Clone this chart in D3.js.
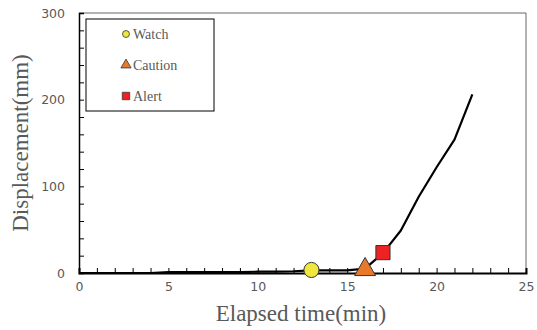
<!DOCTYPE html>
<html>
<head>
<meta charset="utf-8">
<script src="https://cdn.jsdelivr.net/npm/d3@7"></script>
<style>
  body { margin: 0; background: #fff; }
  svg { display: block; }
</style>
</head>
<body>
<svg id="chart" width="537" height="330"></svg>
<script>
// displacement curve
const times = [0, 1, 2, 3, 4, 5, 6, 7, 8, 9, 10, 11, 12, 13, 14, 15, 16, 17, 18, 19, 20, 21, 22];
const displacement = [0, 0, 0, 0, 0, 1, 1, 1, 1, 1, 1.5, 1.5, 2, 3, 3, 3, 5, 23, 49, 88, 122, 154, 206];

const levels = ['Watch', 'Caution', 'Alert'];
const levelTimes = [13, 16, 17];
const levelValues = [3.5, 4, 23.5];
const levelColors = ['#f0e63c', '#e8782a', '#ee2222'];
const levelShapes = [d3.symbolCircle, d3.symbolTriangle, d3.symbolSquare];

const xTicks = [0, 5, 10, 15, 20, 25];
const yTicks = [0, 100, 200, 300];

const svg = d3.select('#chart');
const margin = { top: 13, right: 11, bottom: 57, left: 79 };
const width = 537 - margin.left - margin.right;
const height = 330 - margin.top - margin.bottom;
const chart = svg.append('g')
  .attr('transform', `translate(${margin.left}, ${margin.top})`);

const x = d3.scaleLinear().domain([0, 25]).range([0, width]);
const y = d3.scaleLinear().domain([0, 300]).range([height, 0]);

// frame top/right
chart.append('path')
  .attr('d', `M0,0H${width}V${height}`)
  .attr('fill', 'none')
  .attr('stroke', '#666')
  .attr('stroke-width', 1);

const tickColor = '#595959';

const xAxis = chart.append('g')
  .attr('transform', `translate(0, ${height})`)
  .call(d3.axisBottom(x).tickValues(d3.range(0, 26, 1)).tickSize(-5).tickFormat(''));
xAxis.select('.domain').attr('stroke', '#000').attr('stroke-width', 2);
xAxis.selectAll('.tick line').attr('stroke', '#000');

chart.append('g')
  .attr('transform', `translate(0, ${height})`)
  .call(d3.axisBottom(x).tickValues(xTicks).tickSize(0).tickPadding(9))
  .call(g => g.select('.domain').remove())
  .selectAll('text')
  .attr('fill', tickColor)
  .style('font-family', 'DejaVu Sans, Verdana, sans-serif')
  .style('font-size', '12.5px');

const yAxis = chart.append('g')
  .call(d3.axisLeft(y).tickValues(d3.range(0, 301, 20)).tickSize(-5).tickFormat(''));
yAxis.select('.domain').attr('stroke', '#000').attr('stroke-width', 1.5);
yAxis.selectAll('.tick line').attr('stroke', '#000');

chart.append('g')
  .call(d3.axisLeft(y).tickValues(yTicks).tickSize(0).tickPadding(14))
  .call(g => g.select('.domain').remove())
  .selectAll('text')
  .attr('fill', tickColor)
  .style('font-family', 'DejaVu Sans, Verdana, sans-serif')
  .style('font-size', '12.5px');

// curve
const line = d3.line()
  .x((d, i) => x(times[i]))
  .y(d => y(d));
chart.append('path')
  .datum(displacement)
  .attr('d', line)
  .attr('fill', 'none')
  .attr('stroke', '#000')
  .attr('stroke-width', 2.2)
  .attr('stroke-linejoin', 'round');

// warning level markers
const markerSizes = [180, 190, 200];
chart.selectAll('.level')
  .data(levels)
  .enter()
  .append('path')
  .attr('class', 'level')
  .attr('transform', (d, i) => `translate(${x(levelTimes[i])}, ${y(levelValues[i])})`)
  .attr('d', (d, i) => d3.symbol().type(levelShapes[i]).size(markerSizes[i])())
  .attr('fill', (d, i) => levelColors[i])
  .attr('stroke', '#333')
  .attr('stroke-width', 1);

// legend
const legend = svg.append('g').attr('transform', 'translate(86, 19)');
legend.append('rect')
  .attr('width', 128)
  .attr('height', 92)
  .attr('fill', '#fff')
  .attr('stroke', '#000')
  .attr('stroke-width', 1);

const legendSizes = [38, 45, 55];
levels.forEach((name, i) => {
  const row = legend.append('g').attr('transform', `translate(40, ${15 + i * 31})`);
  row.append('path')
    .attr('d', d3.symbol().type(levelShapes[i]).size(legendSizes[i])())
    .attr('fill', levelColors[i])
    .attr('stroke', '#333')
    .attr('stroke-width', 0.8);
  row.append('text')
    .attr('x', 7)
    .attr('y', 5)
    .attr('fill', tickColor)
    .style('font-family', 'Liberation Serif, Times New Roman, serif')
    .style('font-size', '14px')
    .text(name);
});

// axis titles
svg.append('text')
  .attr('x', 301)
  .attr('y', 321)
  .attr('text-anchor', 'middle')
  .attr('fill', tickColor)
  .style('font-family', 'Liberation Serif, Times New Roman, serif')
  .style('font-size', '23px')
  .text('Elapsed time(min)');

svg.append('text')
  .attr('transform', `translate(28, 143) rotate(-90)`)
  .attr('text-anchor', 'middle')
  .attr('fill', tickColor)
  .style('font-family', 'Liberation Serif, Times New Roman, serif')
  .style('font-size', '23px')
  .text('Displacement(mm)');
</script>
</body>
</html>
